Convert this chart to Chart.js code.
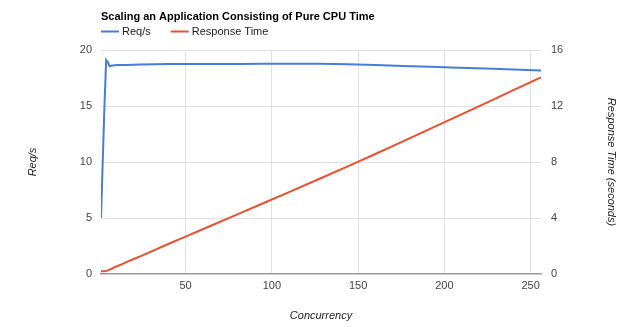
<!DOCTYPE html>
<html>
<head>
<meta charset="utf-8">
<script src="https://cdn.jsdelivr.net/npm/chart.js@4"></script>
<style>
  html, body { margin: 0; padding: 0; background: #fff; }
  #wrap { width: 634px; height: 327px; position: relative; }
</style>
</head>
<body>
<div id="wrap"><canvas id="myChart"></canvas></div>
<script>
const concurrency = [1, 2, 3, 4, 5, 6, 7, 8, 10, 12, 16, 20, 24, 32, 40, 48, 64, 80, 96, 112, 128, 144, 160, 176, 192, 208, 224, 240, 256];
const reqPerSec = [5.0, 10.0, 15.0, 19.1, 18.9, 18.55, 18.6, 18.62, 18.65, 18.66, 18.67, 18.68, 18.7, 18.72, 18.74, 18.75, 18.75, 18.76, 18.77, 18.78, 18.77, 18.72, 18.66, 18.58, 18.5, 18.42, 18.34, 18.26, 18.18];
const responseTime = [0.2, 0.2, 0.2, 0.21, 0.26, 0.32, 0.37, 0.43, 0.54, 0.64, 0.86, 1.07, 1.28, 1.71, 2.14, 2.56, 3.41, 4.26, 5.11, 5.96, 6.82, 7.69, 8.57, 9.47, 10.38, 11.29, 12.21, 13.14, 14.05];
const xTicks = [50, 100, 150, 200, 250];

const FONT = 'Arial, "Liberation Sans", sans-serif';
const BLUE = '#4a7bdc';
const RED = '#e8502f';
const seriesNames = ['Req/s', 'Response Time'];

// title and legend sit above the plot, left-aligned with it
const headerPlugin = {
    id: 'header',
    afterDraw(chart) {
        const ctx = chart.ctx;
        const left = chart.chartArea.left;
        ctx.save();
        ctx.textBaseline = 'alphabetic';
        ctx.font = 'bold 11px ' + FONT;
        ctx.fillStyle = '#000';
        ctx.fillText('Scaling an Application Consisting of Pure CPU Time', left, 20);

        ctx.font = '11px ' + FONT;
        let x = left;
        [BLUE, RED].forEach((c, i) => {
            ctx.strokeStyle = c;
            ctx.lineWidth = 2;
            ctx.beginPath();
            ctx.moveTo(x, 31.5);
            ctx.lineTo(x + 18, 31.5);
            ctx.stroke();
            ctx.fillStyle = '#222';
            ctx.fillText(seriesNames[i], x + 21, 35);
            x += 21 + ctx.measureText(seriesNames[i]).width + 20;
        });
        ctx.restore();
    }
};

document.addEventListener('DOMContentLoaded', () => {
    const data = {
        datasets: [{
            label: seriesNames[0],
            data: concurrency.map((c, i) => ({x: c, y: reqPerSec[i]})),
            borderColor: BLUE,
            borderWidth: 2,
            pointRadius: 0,
            yAxisID: 'y',
            order: 1
        }, {
            label: seriesNames[1],
            data: concurrency.map((c, i) => ({x: c, y: responseTime[i]})),
            borderColor: RED,
            borderWidth: 2,
            pointRadius: 0,
            yAxisID: 'y2',
            order: 2
        }]
    };

    const tickFont = {family: FONT, size: 11};
    const titleFont = {family: FONT, size: 11, style: 'italic'};

    const config = {
        type: 'line',
        data: data,
        plugins: [headerPlugin],
        options: {
            responsive: true,
            maintainAspectRatio: false,
            animation: false,
            layout: {padding: {top: 50, left: 0, right: 0, bottom: 0}},
            plugins: {
                legend: {display: false},
                title: {display: false},
                tooltip: {enabled: false}
            },
            scales: {
                x: {
                    type: 'linear',
                    min: 1,
                    max: 256,
                    afterBuildTicks: (s) => { s.ticks = xTicks.map(v => ({value: v})); },
                    afterFit: (s) => { s.height = 53; },
                    ticks: {font: tickFont, color: '#444', padding: 5, maxRotation: 0},
                    grid: {color: '#e0e0e0', drawTicks: false},
                    border: {display: true, color: '#999', width: 1.5},
                    title: {display: true, text: 'Concurrency', font: titleFont, color: '#222', padding: {top: 0, bottom: 4}}
                },
                y: {
                    position: 'left',
                    min: 0,
                    max: 20,
                    ticks: {stepSize: 5, font: tickFont, color: '#444', padding: 9},
                    afterFit: (s) => { s.width = 101; },
                    grid: {color: (c) => c.tick.value === 0 ? 'rgba(0,0,0,0)' : '#e0e0e0', drawTicks: false},
                    border: {display: false},
                    title: {display: true, text: 'Req/s', font: titleFont, color: '#222', padding: {top: 26, bottom: 0}}
                },
                y2: {
                    position: 'right',
                    min: 0,
                    max: 16,
                    ticks: {stepSize: 4, font: tickFont, color: '#444', padding: 10},
                    afterFit: (s) => { s.width = 93; },
                    grid: {display: false, drawTicks: false},
                    border: {display: false},
                    title: {display: true, text: 'Response Time (seconds)', font: titleFont, color: '#222', padding: {top: 16, bottom: 0}}
                }
            }
        }
    };

    new Chart(document.getElementById('myChart'), config);
});
</script>
</body>
</html>
